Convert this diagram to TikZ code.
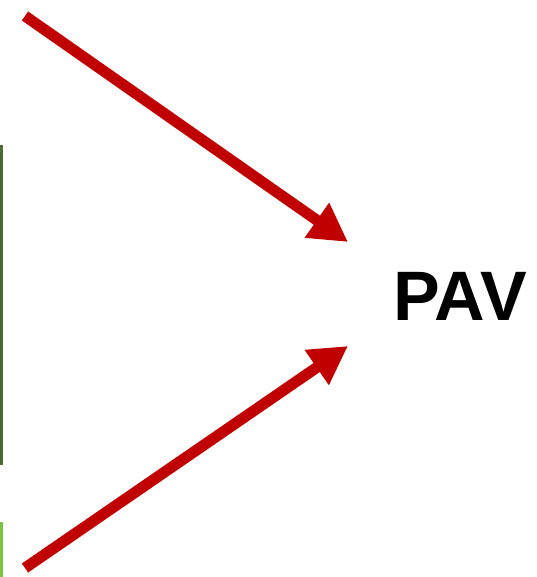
\documentclass[tikz,border=0pt]{standalone}
\usepackage{fontspec}
\setmainfont{Liberation Sans}
\usetikzlibrary{arrows.meta}
\definecolor{arrowred}{HTML}{C00000}
\definecolor{darkgreen}{HTML}{4E6B35}
\definecolor{lightgreen}{HTML}{7DC242}
\tikzset{
  redarrow/.style={draw=arrowred, line width=11pt, -{Triangle[length=38pt,width=40pt]}},
  label/.style={font=\fontsize{70pt}{70pt}\selectfont\bfseries, inner sep=0pt, anchor=base}
}
\begin{document}
\begin{tikzpicture}[x=1pt,y=-1pt]
\useasboundingbox (0,0) rectangle (536,577);
\fill[white] (0,0) rectangle (536,577);
\fill[darkgreen] (0,145) rectangle (3,465);
\fill[lightgreen] (0,522) rectangle (3,577);
\node[label] (pav) at (460,320) {PAV};
\coordinate (a1) at (25,16);
\coordinate (t1) at (348,242);
\coordinate (a2) at (25,568);
\coordinate (t2) at (348,346);
\draw[redarrow] (a1) -- (t1);
\draw[redarrow] (a2) -- (t2);
\end{tikzpicture}
\end{document}
